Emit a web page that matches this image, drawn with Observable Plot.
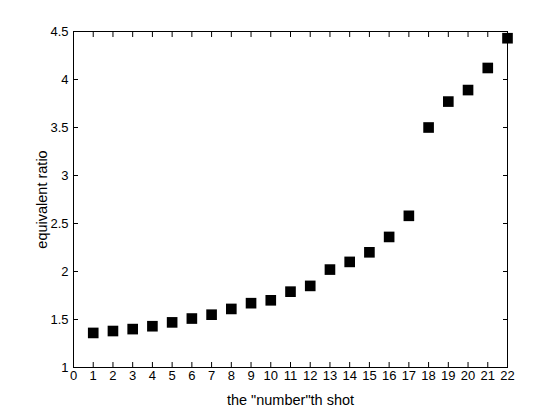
<!DOCTYPE html>
<html>
<head>
<meta charset="utf-8">
<script src="https://cdn.jsdelivr.net/npm/d3@7"></script>
<script src="https://cdn.jsdelivr.net/npm/@observablehq/plot@0.6"></script>
<style>
  html, body { margin: 0; padding: 0; background: #fff; }
</style>
</head>
<body>
<div id="chart"></div>
<script>
const shots = [1, 2, 3, 4, 5, 6, 7, 8, 9, 10, 11, 12, 13, 14, 15, 16, 17, 18, 19, 20, 21, 22];
const ratios = [1.36, 1.38, 1.40, 1.43, 1.47, 1.51, 1.55, 1.61, 1.67, 1.70, 1.79, 1.85, 2.02, 2.10, 2.20, 2.36, 2.58, 3.50, 3.77, 3.89, 4.12, 4.43];
const xTicks = [0, 1, 2, 3, 4, 5, 6, 7, 8, 9, 10, 11, 12, 13, 14, 15, 16, 17, 18, 19, 20, 21, 22];
const yTicks = [1, 1.5, 2, 2.5, 3, 3.5, 4, 4.5];
const xLabel = 'the "number"th shot';
const yLabel = "equivalent ratio";

const data = shots.map((s, i) => ({shot: s, ratio: ratios[i]}));

const chart = Plot.plot({
  width: 560,
  height: 414,
  marginLeft: 73,
  marginRight: 53,
  marginTop: 31,
  marginBottom: 47,
  style: {fontFamily: "'Liberation Sans', Arial, sans-serif", fontSize: "13px", color: "black", background: "white"},
  x: {domain: [0, 22]},
  y: {domain: [1, 4.5]},
  marks: [
    Plot.frame({stroke: "black"}),
    // tick labels
    Plot.axisX(xTicks, {anchor: "bottom", tickSize: 0, tickPadding: 3, tickFormat: d => String(d), label: null, fontSize: 13}),
    Plot.axisY(yTicks, {anchor: "left", tickSize: 0, tickPadding: 5, tickFormat: d => String(d), label: null, fontSize: 13}),
    // axis titles
    Plot.axisX(xTicks, {anchor: "bottom", tickSize: 0, tickFormat: () => "", fontSize: 14.5,
      label: xLabel, labelAnchor: "center", labelArrow: "none", labelOffset: 37}),
    Plot.axisY(yTicks, {anchor: "left", tickSize: 0, tickFormat: () => "", fontSize: 14.5,
      label: yLabel, labelAnchor: "center", labelArrow: "none", labelOffset: 37}),
    // inward ticks on all sides
    Plot.axisX(xTicks, {anchor: "bottom", tickSize: -5, tickFormat: () => "", label: null}),
    Plot.axisX(xTicks, {anchor: "top", tickSize: -5, tickFormat: () => "", label: null}),
    Plot.axisY(yTicks, {anchor: "left", tickSize: -5, tickFormat: () => "", label: null}),
    Plot.axisY(yTicks, {anchor: "right", tickSize: -5, tickFormat: () => "", label: null}),
    Plot.dot(data, {x: "shot", y: "ratio", symbol: "square", r: 6, fill: "black", stroke: null})
  ]
});
document.getElementById("chart").appendChild(chart);
</script>
</body>
</html>
